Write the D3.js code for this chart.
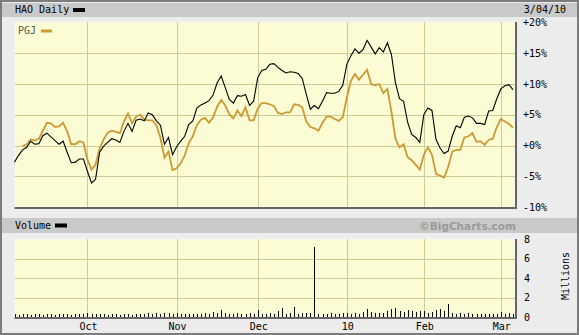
<!DOCTYPE html>
<html>
<head>
<meta charset="utf-8">
<script src="https://cdn.jsdelivr.net/npm/d3@7"></script>
<style>
  html, body { margin: 0; padding: 0; background: #ececec; }
  svg { display: block; }
  text { font-family: "DejaVu Sans Mono", monospace; font-size: 10px; }
</style>
</head>
<body>
<div id="chart"></div>
<script>
// HAO daily vs PGJ, % change, one value per trading day (Sep 4 2009 .. Mar 4 2010)
const haoPct = [
  -2.7, -1.6, -0.7, -0.3, 0.7, 0.2, 0.3, 1.6, 2.0, 1.4, 0.8, 0.2, 0.7, -1.1, -2.8, -2.7, -2.2, -2.2,
  -4.2, -6.1, -5.5, -1.1, -0.1, 0.5, 1.1, 0.9, 0.5, 2.3, 3.6, 2.3, 4.1, 4.3, 4.0, 5.3, 5.0, 4.0, 3.3, 0.2, 1.3, -1.5,
  -0.2, 0.7, 1.5, 3.4, 4.0, 6.1, 6.6, 6.9, 7.3, 8.2, 10.2, 11.3, 9.4, 7.5, 6.9, 8.1, 8.0, 8.3, 6.5, 7.2,
  11.0, 12.2, 12.4, 13.2, 13.3, 12.7, 12.2, 11.8, 12.0, 11.9, 11.7, 10.9, 8.3, 5.9, 6.5, 6.0, 7.2, 8.6, 8.5, 8.5, 8.8, 9.8,
  13.2, 14.6, 15.7, 15.0, 15.6, 17.1, 16.0, 14.9, 15.9, 15.2, 16.7, 14.8, 10.2, 7.6, 7.2, 3.8, 1.8, 1.3, 0.5,
  5.0, 6.1, 5.7, 1.0, -0.4, -1.3, -0.9, 1.5, 3.2, 2.9, 4.6, 4.8, 4.5, 3.6, 3.6, 3.4, 5.6, 5.7, 7.6,
  9.2, 9.7, 9.9, 9.1
];
const pgjPct = [
  null, null, -0.1, 0.2, 1.0, 0.8, 1.1, 2.4, 3.7, 3.6, 3.0, 3.1, 3.7, 2.3, 0.2, 0.2, 0.7, 0.5,
  -2.3, -3.9, -3.1, -0.5, 1.0, 2.1, 2.4, 2.2, 2.0, 3.9, 5.2, 3.6, 4.7, 5.0, 4.2, 4.1, 4.1, 3.3, 1.3, -2.0, -1.0, -4.0,
  -3.7, -2.9, -1.6, 0.4, 1.5, 3.3, 4.2, 4.5, 3.7, 4.6, 6.3, 7.4, 6.5, 5.1, 4.4, 5.7, 4.8, 6.2, 4.1, 4.1,
  6.0, 6.9, 6.9, 6.7, 6.4, 5.3, 5.1, 5.4, 5.4, 6.7, 6.6, 6.2, 3.9, 3.0, 2.8, 2.4, 3.7, 4.7, 4.7, 4.3, 4.0, 4.6,
  7.8, 10.5, 11.6, 10.7, 11.5, 12.3, 10.0, 9.8, 10.0, 8.5, 9.2, 5.5, 1.1, -0.3, 0.2, -1.9, -2.4, -3.1, -3.9,
  -1.5, -0.3, -1.5, -4.6, -4.9, -5.2, -3.5, -1.0, -0.7, -0.7, 1.3, 1.5, 2.0, 0.6, 0.7, 0.1, 0.9, 1.1, 3.0,
  4.3, 3.9, 3.5, 2.9
];
// volume, millions
const volume = [
  0.3, 0.25, 0.3, 0.3, 0.25, 0.3, 0.3, 0.25, 0.3, 0.3, 0.25, 0.3, 0.35, 0.3, 0.25, 0.3, 0.35, 0.3,
  0.4, 0.3, 0.35, 0.3, 0.3, 0.25, 0.3, 0.3, 0.25, 0.3, 0.3, 0.25, 0.35, 0.3, 0.3, 0.4, 0.3, 0.45, 0.35, 0.4, 0.45, 0.35,
  0.45, 0.3, 0.35, 0.3, 0.3, 0.35, 0.3, 0.4, 0.3, 0.5, 0.4, 0.75, 0.45, 0.35, 0.3, 0.45, 0.3, 0.35, 0.4, 0.35,
  0.7, 0.3, 0.35, 0.4, 0.3, 0.6, 0.95, 0.35, 0.4, 1.0, 0.35, 0.4, 0.45, 0.4, 7.2, 0.35, 0.3, 0.35, 0.45, 0.3, 0.35, 0.4,
  0.45, 0.35, 0.4, 0.35, 0.5, 0.8, 0.55, 0.45, 0.4, 0.45, 0.6, 0.85, 0.9, 0.6, 0.5, 0.7, 0.6, 0.55, 0.65,
  0.6, 0.45, 0.55, 0.75, 0.85, 0.6, 1.3, 0.4, 0.35, 0.45, 0.3, 0.4, 0.35, 0.3, 0.35, 0.3, 0.3, 0.35, 0.3,
  0.5, 0.35, 0.45, 0.35
];

// month ticks: label + trading-day index of first session of the month
const monthLabels = ["Oct", "Nov", "Dec", "10", "Feb", "Mar"];
const monthStart = [18, 40, 60, 82, 101, 120];

const pctTicks = [20, 15, 10, 5, 0, -5, -10];
const volTicks = [8, 6, 4, 2, 0];

const mainTitle = "HAO Daily";
const compareTitle = "PGJ";
const dateLabel = "3/04/10";

document.addEventListener("DOMContentLoaded", function () {

    function drawChart() {
        const width = 579;
        const height = 335;

        const svg = d3.select("#chart")
            .append("svg")
            .attr("width", width)
            .attr("height", height);

        // outer frame
        svg.append("rect")
            .attr("x", 1).attr("y", 1)
            .attr("width", width - 2).attr("height", height - 2)
            .attr("fill", "#ececec")
            .attr("stroke", "#7c7c7c")
            .attr("stroke-width", 2);

        // title bands
        svg.append("rect").attr("x", 2).attr("y", 3).attr("width", width - 4).attr("height", 14).attr("fill", "#c9c9c9");
        svg.append("rect").attr("x", 2).attr("y", 218).attr("width", width - 4).attr("height", 15).attr("fill", "#c9c9c9");

        const left = 14.5, right = 515;
        const x = d3.scaleLinear().domain([0, haoPct.length - 1]).range([left, 513]);
        const y = d3.scaleLinear().domain([-10, 20]).range([207, 22.5]);
        const yVol = d3.scaleLinear().domain([0, 8]).range([317, 239]);

        // plot backgrounds
        function panel(top, bottom) {
            svg.append("rect")
                .attr("x", left).attr("y", top)
                .attr("width", right - left).attr("height", bottom - top)
                .attr("fill", "#fcfcd4")
                .attr("stroke", "#f4f4f4")
                .attr("stroke-width", 1);
        }
        panel(22, 207);
        panel(239, 317);

        const gridColor = "#cccc99";

        // horizontal grid (price)
        svg.append("g").selectAll("line")
            .data(pctTicks.slice(1, -1))
            .enter().append("line")
            .attr("x1", left).attr("x2", right)
            .attr("y1", d => Math.round(y(d)) + 0.5).attr("y2", d => Math.round(y(d)) + 0.5)
            .attr("stroke", gridColor);

        // horizontal grid (volume)
        svg.append("g").selectAll("line")
            .data(volTicks.slice(1, -1))
            .enter().append("line")
            .attr("x1", left).attr("x2", right)
            .attr("y1", d => Math.round(yVol(d)) + 0.5).attr("y2", d => Math.round(yVol(d)) + 0.5)
            .attr("stroke", gridColor);

        // vertical month grid on both panels
        [[22, 207], [239, 317]].forEach(function ([t, b]) {
            svg.append("g").selectAll("line")
                .data(monthStart)
                .enter().append("line")
                .attr("x1", d => Math.round(x(d)) + 0.5).attr("x2", d => Math.round(x(d)) + 0.5)
                .attr("y1", t).attr("y2", b)
                .attr("stroke", gridColor);
        });

        // volume bars
        svg.append("g").selectAll("line")
            .data(volume)
            .enter().append("line")
            .attr("x1", (d, i) => Math.round(x(i)) + 0.5).attr("x2", (d, i) => Math.round(x(i)) + 0.5)
            .attr("y1", yVol(0)).attr("y2", d => yVol(d))
            .attr("stroke", "#000")
            .attr("stroke-width", 1)
            .attr("shape-rendering", "crispEdges");

        // price lines
        const line = d3.line()
            .defined(d => d !== null)
            .x((d, i) => x(i))
            .y(d => y(d));

        svg.append("path")
            .datum(pgjPct)
            .attr("d", line)
            .attr("fill", "none")
            .attr("stroke", "#cc9933")
            .attr("stroke-width", 1.8);

        svg.append("path")
            .datum(haoPct)
            .attr("d", line)
            .attr("fill", "none")
            .attr("stroke", "#000")
            .attr("stroke-width", 1.1);

        // panel shadow edges (bottom / right)
        [[22, 207], [239, 317]].forEach(function ([t, b]) {
            svg.append("rect").attr("x", left).attr("y", b).attr("width", right - left + 2).attr("height", 2).attr("fill", "#666");
            svg.append("rect").attr("x", right).attr("y", t).attr("width", 2).attr("height", b - t + 2).attr("fill", "#666");
        });

        // right axis labels
        svg.append("g").selectAll("text")
            .data(pctTicks)
            .enter().append("text")
            .attr("x", 523)
            .attr("y", d => y(d) + 3.5)
            .text(d => (d >= 0 ? "+" : "") + d + "%");

        svg.append("g").selectAll("text")
            .data(volTicks)
            .enter().append("text")
            .attr("x", 524)
            .attr("y", d => yVol(d) + 3.5)
            .text(d => d);

        svg.append("text")
            .attr("transform", "translate(569,276) rotate(-90)")
            .attr("text-anchor", "middle")
            .text("Millions");

        // month labels
        svg.append("g").selectAll("text")
            .data(monthStart)
            .enter().append("text")
            .attr("x", d => x(d) + 1)
            .attr("y", 330)
            .attr("text-anchor", "middle")
            .text((d, i) => monthLabels[i]);

        // titles and legends
        svg.append("text").attr("x", 15).attr("y", 13).text(mainTitle);
        svg.append("rect").attr("x", 73).attr("y", 8).attr("width", 12).attr("height", 4).attr("fill", "#000");
        svg.append("text").attr("x", 566).attr("y", 13).attr("text-anchor", "end").text(dateLabel);

        svg.append("text").attr("x", 18).attr("y", 34).attr("fill", "#555").text(compareTitle);
        svg.append("rect").attr("x", 41).attr("y", 29.5).attr("width", 11).attr("height", 3).attr("fill", "#cc9933");

        svg.append("text").attr("x", 15).attr("y", 229).text("Volume");
        svg.append("rect").attr("x", 55).attr("y", 223.5).attr("width", 12).attr("height", 4).attr("fill", "#000");

        svg.append("text")
            .attr("x", 516).attr("y", 230)
            .attr("text-anchor", "end")
            .attr("fill", "#9a9a9a")
            .style("font-family", "'DejaVu Sans', sans-serif")
            .style("font-weight", "bold")
            .style("font-size", "10.5px")
            .text("\u00A9BigCharts.com");
    }

    drawChart();
});
</script>
</body>
</html>
